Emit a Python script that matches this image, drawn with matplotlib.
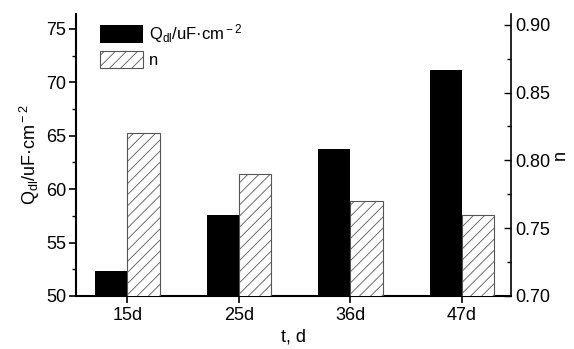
import matplotlib
matplotlib.use("Agg")
import matplotlib.pyplot as plt
import numpy as np

plt.rcParams['font.family'] = ['Liberation Sans', 'DejaVu Sans']
plt.rcParams['mathtext.fontset'] = 'custom'
plt.rcParams['mathtext.rm'] = 'Liberation Sans'
plt.rcParams['mathtext.it'] = 'Liberation Sans'
plt.rcParams['hatch.linewidth'] = 0.6

# data
categories = ["15d", "25d", "36d", "47d"]
qdl = [52.3, 57.6, 63.8, 71.2]
n_vals = [0.820, 0.790, 0.770, 0.760]

fig = plt.figure(figsize=(5.74, 3.49), dpi=100)
ax = fig.add_axes([0.1324, 0.152, 0.758, 0.808])
ax2 = ax.twinx()

x = np.arange(len(categories))
w = 0.29
ax.bar(x - w / 2, qdl, w, color="black", label=r"Q$_{\rm dl}$/uF·cm$^{\rm -2}$", zorder=2)
ax2.bar(x + w / 2, n_vals, w, color="white", edgecolor="#555555", hatch="///",
        linewidth=0.8, label="n", zorder=2)

ax.set_xlim(-0.46, 3.44)
ax.set_ylim(50, 76.4)
ax2.set_ylim(0.70, 0.908)

ax.set_xticks(x)
ax.set_xticklabels(categories)
ax.set_yticks([50, 55, 60, 65, 70, 75])
ax.set_yticks(np.arange(52.5, 76, 5), minor=True)
ax2.set_yticks([0.70, 0.75, 0.80, 0.85, 0.90])
ax2.set_yticklabels(["0.70", "0.75", "0.80", "0.85", "0.90"])
ax2.set_yticks([0.725, 0.775, 0.825, 0.875], minor=True)

for a in (ax, ax2):
    a.spines["top"].set_visible(False)
    for s in ("left", "right", "bottom"):
        a.spines[s].set_linewidth(1.5)
ax.spines["right"].set_visible(False)
ax2.spines["left"].set_visible(False)
ax2.spines["bottom"].set_visible(False)
ax2.spines["right"].set_linewidth(1.2)

ax.tick_params(axis="y", direction="out", length=5, width=1.2, labelsize=13, pad=2)
ax.tick_params(axis="y", which="minor", direction="out", length=3, width=1.0)
ax.tick_params(axis="x", direction="out", length=5, width=1.2, labelsize=13, pad=3)
ax2.tick_params(axis="y", direction="in", length=5, width=1.0, labelsize=13, pad=3)
ax2.tick_params(axis="y", which="minor", direction="in", length=3, width=1.0)

ax.set_xlabel("t, d", fontsize=13, labelpad=3)
ax.set_ylabel(r"Q$_{\rm dl}$/uF·cm$^{\rm -2}$", fontsize=13, labelpad=3)
ax2.set_ylabel("n", fontsize=13, labelpad=1)

h1, l1 = ax.get_legend_handles_labels()
h2, l2 = ax2.get_legend_handles_labels()
ax.legend(h1 + h2, l1 + l2, loc="upper left", frameon=False, fontsize=12,
          handlelength=2.6, handleheight=1.2, borderaxespad=0.1,
          bbox_to_anchor=(0.035, 1.0), labelspacing=0.35, handletextpad=0.35)

fig.savefig("out.png", dpi=100)
